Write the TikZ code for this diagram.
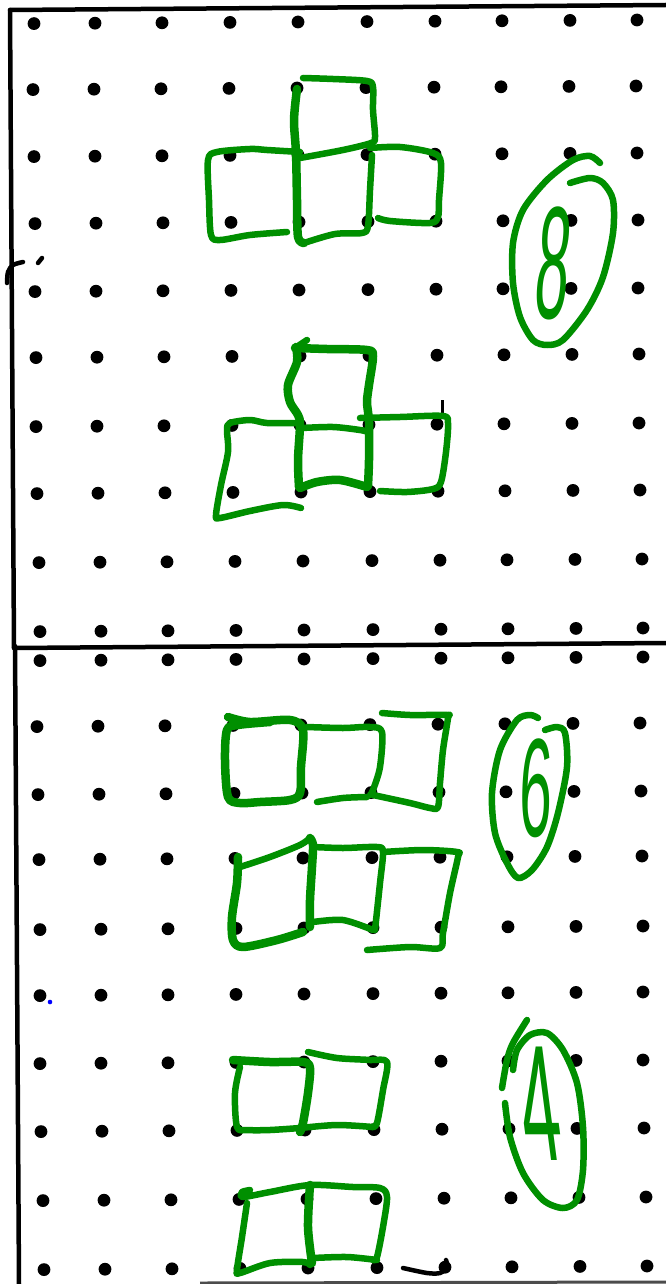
\documentclass[tikz,border=0pt]{standalone}
\usepackage{fontspec}
\newfontfamily\handfont{Liberation Sans}
\definecolor{penGreen}{RGB}{0,143,0}
\begin{document}
\begin{tikzpicture}[x=1pt,y=-1pt,
  pen/.style={draw=penGreen, line width=6.5pt, line cap=round, line join=round},
  thickpen/.style={pen, line width=8.5pt},
  frameline/.style={draw=black, line width=4.5pt, line cap=round},
  inkmark/.style={draw=black, line width=4.5pt, line cap=round, line join=round},
  griddot/.style={fill=black},
  digit/.style={text=penGreen, inner sep=0pt, font=\handfont}]
\useasboundingbox (0,0) rectangle (666,1284);
\fill[white] (0,0) rectangle (666,1284);

% frame
\draw[frameline] (10,10) -- (666,5);
\draw[frameline] (10,10) -- (14,648);
\draw[frameline] (14,648) -- (666,643);
\draw[frameline] (15,646) -- (19,1284);
\draw[draw=black!70, line width=3pt] (200,1283) -- (666,1282);

% dot grid
\foreach \yr/\dx in {24/-1,90/-2,157/-1,224/0,292/0,358/1,427/1,494/2,563/4,632/5,
                     661/5,727/2,795/3,860/4,930/5,996/5,1064/5,1132/6,1201/8,1270/9}{
  \foreach \xc [count=\i] in {35,96,163,231,299,368,436,503,571,638}{
    \pgfmathsetmacro\xx{\xc+(\dx)}
    \pgfmathsetmacro\yy{\yr-0.4*\i}
    \fill[griddot] (\xx,\yy) circle (6.4);
  }
}

% stray marks
\draw[inkmark] plot[smooth] coordinates {(23,262) (13,265) (8,272) (7,283)};
\draw[inkmark] (38,263) -- (42,258);
\draw[draw=black, line width=3pt] (442,400) -- (442,415);
\fill[blue] (50,1002) circle (2.3);
\draw[inkmark] plot[smooth] coordinates {(403,1268) (427,1273) (440,1273) (447,1267) (446,1260)};

% ---------- figure 1 ----------
\draw[thickpen] plot[smooth] coordinates {(297,89) (294,120) (296,153) (297,200) (298,237) (304,243)};
\draw[pen] plot[smooth] coordinates {(303,78) (333,79) (367,81) (373,87) (373,110) (375,137) (371,143) (343,150) (300,158)};
\draw[pen] plot[smooth] coordinates {(304,243) (335,234) (362,233) (368,226) (370,190) (372,155)};
\draw[pen] plot[smooth] coordinates {(300,152) (267,150) (250,149) (217,152) (208,160) (209,200) (211,235) (220,240) (250,235) (287,232)};
\draw[pen] plot[smooth] coordinates {(370,148) (400,147) (433,153) (441,163) (439,200) (438,217) (430,223) (390,221) (378,218)};

% ---------- figure 2 ----------
\draw[pen] (295,348) -- (307,340);
\draw[thickpen] plot[smooth] coordinates {(296,347) (297,362) (288,385) (290,402) (298,415) (300,425) (298,460) (299,487)};
\draw[thickpen] plot[smooth] coordinates {(295,348) (327,349) (367,350) (373,356) (369,385) (367,402) (369,422) (369,460) (368,486)};
\draw[thickpen] plot[smooth] coordinates {(300,488) (317,482) (340,480) (367,487)};
\draw[pen] plot[smooth] coordinates {(302,428) (333,427) (360,430) (368,432)};
\draw[pen] plot[smooth] coordinates {(297,423) (267,423) (250,420) (230,423) (227,430) (228,452) (221,485) (216,515) (220,518) (250,511) (283,505) (301,508)};
\draw[pen] plot[smooth] coordinates {(360,418) (400,417) (443,416) (448,424) (446,452) (441,482) (433,489) (407,492) (380,491)};

% ---------- circled 8 ----------
\draw[pen] plot[smooth] coordinates {(600,163) (590,156) (573,160) (547,180) (523,210) (513,243) (513,283) (520,317) (533,340) (547,345) (563,340) (587,310) (603,277) (613,233) (613,200) (603,183) (590,178) (570,183)};
\begin{scope}[shift={(554,263)}, xslant=0.08, transform shape]
  \node[digit] (eight) {\fontsize{160}{160}\selectfont\scalebox{0.38}[1]{8}};
\end{scope}

% ---------- figure 3 ----------
\draw[thickpen] plot[smooth] coordinates {(228,717) (250,722) (290,720) (303,730) (301,767) (300,793) (290,800) (260,802) (240,803) (228,797) (225,760) (227,730) (238,725) (270,722)};
\draw[pen] plot[smooth] coordinates {(307,727) (343,728) (370,727) (382,732) (380,767) (373,790) (370,795)};
\draw[pen] plot[smooth] coordinates {(317,802) (343,798) (367,797)};
\draw[pen] plot[smooth] coordinates {(382,713) (410,715) (447,715) (448,718) (443,750) (440,783) (438,807) (430,808) (410,803) (373,795)};

% ---------- figure 4 ----------
\draw[thickpen] plot[smooth] coordinates {(238,857) (237,883) (232,917) (233,940) (243,947) (277,940) (303,932)};
\draw[pen] plot[smooth] coordinates {(240,867) (270,857) (300,845) (310,838)};
\draw[thickpen] plot[smooth] coordinates {(310,838) (313,845) (312,867) (310,900) (310,927)};
\draw[pen] plot[smooth] coordinates {(313,847) (343,848) (377,847) (383,852) (380,883) (375,930)};
\draw[pen] plot[smooth] coordinates {(313,922) (343,920) (373,930)};
\draw[pen] plot[smooth] coordinates {(383,852) (423,850) (457,852) (458,857) (450,893) (443,933) (440,948) (410,947) (367,950)};

% ---------- circled 6 ----------
\draw[pen] plot[smooth] coordinates {(538,718) (530,715) (517,720) (500,750) (492,793) (495,833) (507,863) (518,878) (532,870) (547,847) (558,813) (567,767) (565,733) (557,727) (545,730)};
\begin{scope}[shift={(536,788)}, xslant=0.03, transform shape]
  \node[digit] (six) {\fontsize{140}{140}\selectfont\scalebox{0.42}[1]{6}};
\end{scope}

% ---------- figure 5 ----------
\draw[thickpen] plot[smooth] coordinates {(233,1060) (270,1062) (303,1062) (310,1068) (308,1093) (303,1123) (300,1132)};
\draw[pen] plot[smooth] coordinates {(240,1067) (235,1093) (237,1127) (247,1130) (270,1130) (300,1128)};
\draw[pen] plot[smooth] coordinates {(308,1052) (337,1058) (370,1060) (387,1062) (383,1090) (377,1123) (372,1127)};
\draw[pen] plot[smooth] coordinates {(300,1128) (337,1125) (373,1127)};

% ---------- figure 6 ----------
\draw[pen] plot[smooth] coordinates {(250,1190) (242,1192) (243,1197) (270,1192) (310,1185) (353,1187) (380,1188) (387,1197) (383,1227) (377,1257) (373,1260)};
\draw[pen] plot[smooth] coordinates {(247,1203) (242,1237) (237,1270) (240,1273) (270,1263) (303,1262) (310,1265)};
\draw[thickpen] plot[smooth] coordinates {(310,1185) (308,1227) (312,1263)};
\draw[pen] plot[smooth] coordinates {(313,1258) (347,1257) (377,1260)};

% ---------- circled 4 ----------
\draw[pen] plot[smooth] coordinates {(527,1020) (513,1043) (507,1060) (502,1088)};
\draw[pen] plot[smooth] coordinates {(505,1103) (510,1137) (523,1173) (543,1200) (563,1208) (577,1200) (583,1170) (583,1127) (577,1083) (563,1050) (547,1033) (530,1035) (517,1050) (513,1070)};
\begin{scope}[shift={(539,1104)}, xslant=-0.13, transform shape]
  \node[digit] (four) {\fontsize{165}{165}\selectfont\scalebox{0.42}[1]{4}};
\end{scope}
\end{tikzpicture}
\end{document}
